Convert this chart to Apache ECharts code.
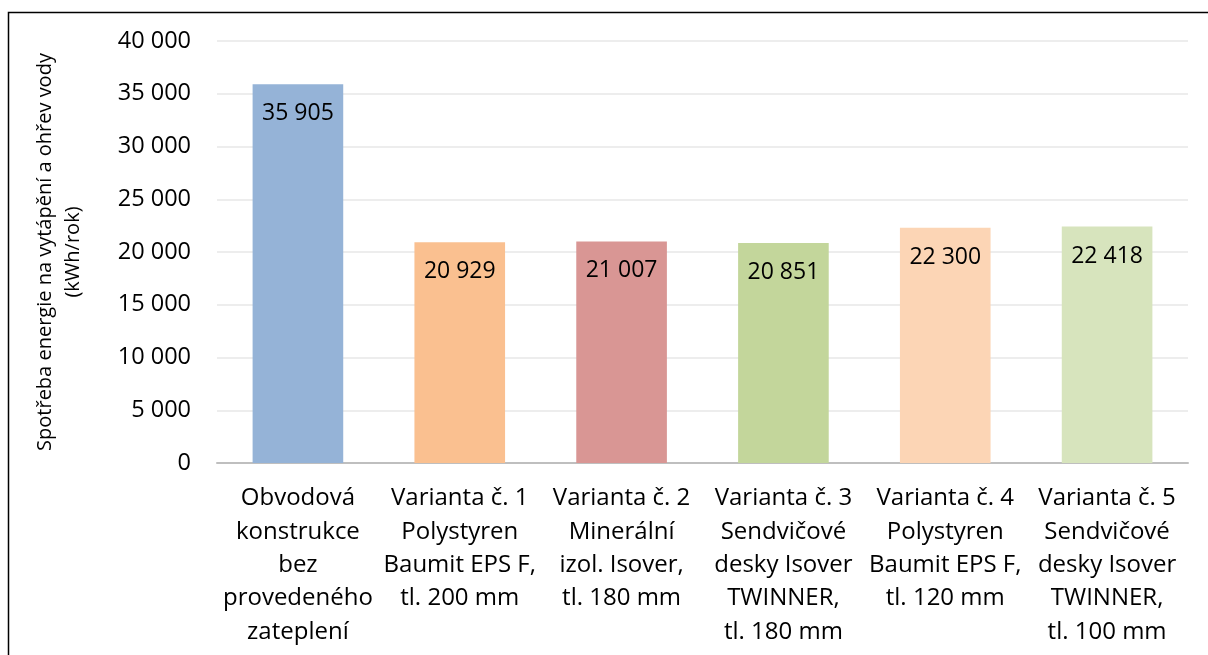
<!DOCTYPE html>
<html>
<head>
<meta charset="utf-8">
<script src="https://cdn.jsdelivr.net/npm/echarts@6/dist/echarts.min.js"></script>
<style>
  html, body { margin: 0; padding: 0; background: #fff; }
  #chart { width: 1208px; height: 655px; }
</style>
</head>
<body>
<div id="chart"></div>
<script>
// Variants of the building envelope
const categories = [
  'Obvodová\nkonstrukce\nbez\nprovedeného\nzateplení',
  'Varianta č. 1\nPolystyren\nBaumit EPS F,\ntl. 200 mm',
  'Varianta č. 2\nMinerální\nizol. Isover,\ntl. 180 mm',
  'Varianta č. 3\nSendvičové\ndesky Isover\nTWINNER,\ntl. 180 mm',
  'Varianta č. 4\nPolystyren\nBaumit EPS F,\ntl. 120 mm',
  'Varianta č. 5\nSendvičové\ndesky Isover\nTWINNER,\ntl. 100 mm'
];
// Energy consumption for heating and hot water (kWh/year)
const consumption = [35905, 20929, 21007, 20851, 22300, 22418];
const barColors = ['#95B3D7', '#FAC090', '#D99694', '#C3D69B', '#FCD5B5', '#D7E4BD'];
const yAxisTitle = 'Spotřeba energie na vytápění a ohřev vody\n(kWh/rok)';

const fmt = v => String(v).replace(/\B(?=(\d{3})+(?!\d))/g, ' ');
const FONT = '"Open Sans", "Noto Sans", sans-serif';

const chart = echarts.init(document.getElementById('chart'), null, { renderer: 'canvas' });
chart.setOption({
  animation: false,
  backgroundColor: '#fff',
  textStyle: { fontFamily: FONT },
  graphic: [{
    type: 'rect',
    shape: { x: 8.5, y: 12.5, width: 1220, height: 700 },
    style: { fill: 'none', stroke: '#000', lineWidth: 1.5 },
    silent: true
  }],
  grid: { left: 217, right: 20, top: 41, bottom: 192 },
  xAxis: {
    type: 'category',
    data: categories,
    axisLine: { lineStyle: { color: '#BFBFBF', width: 2 } },
    axisTick: { show: false },
    axisLabel: {
      interval: 0,
      color: '#000',
      fontFamily: FONT,
      fontSize: 24,
      lineHeight: 33.3,
      margin: 19
    }
  },
  yAxis: {
    type: 'value',
    min: 0,
    max: 40000,
    interval: 5000,
    name: yAxisTitle,
    nameLocation: 'middle',
    nameGap: 130,
    nameTextStyle: { color: '#000', fontFamily: FONT, fontSize: 20, lineHeight: 28 },
    axisLine: { show: false },
    axisTick: { show: false },
    splitLine: { lineStyle: { color: '#EDEDED', width: 2 } },
    axisLabel: {
      color: '#000',
      fontFamily: FONT,
      fontSize: 23.5,
      margin: 26,
      formatter: v => fmt(v)
    }
  },
  series: [{
    type: 'bar',
    data: consumption.map((v, i) => ({ value: v, itemStyle: { color: barColors[i] } })),
    barCategoryGap: '44%',
    label: {
      show: true,
      position: 'insideTop',
      distance: 18,
      color: '#000',
      fontFamily: FONT,
      fontSize: 23,
      formatter: p => fmt(p.value)
    }
  }]
});
</script>
</body>
</html>
